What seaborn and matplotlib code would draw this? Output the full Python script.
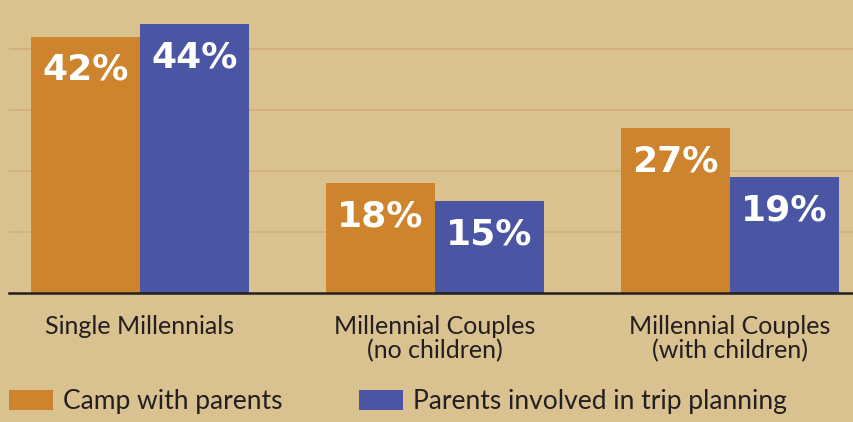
import matplotlib
matplotlib.use("Agg")
import matplotlib.pyplot as plt
import seaborn as sns
import pandas as pd

categories = ["Single Millennials", "Millennial Couples\n(no children)", "Millennial Couples\n(with children)"]
series_names = ["Camp with parents", "Parents involved in trip planning"]
camp_with_parents = [42, 18, 27]
parents_involved = [44, 15, 19]

BG = "#d9c290"
ORANGE = "#cd842c"
BLUE = "#4a55a3"
TEXT = "#231f20"
GRID = "#d4b07d"

sns.set_theme(style="white")
plt.rcParams["font.family"] = ["Lato", "DejaVu Sans"]

df = pd.DataFrame({
    "category": categories * 2,
    "series": [series_names[0]] * 3 + [series_names[1]] * 3,
    "value": camp_with_parents + parents_involved,
})

fig = plt.figure(figsize=(8.54, 4.22), dpi=100, facecolor=BG)
ax = fig.add_axes([9 / 854, 129 / 422, 845 / 854, 293 / 422])
ax.set_facecolor(BG)

sns.barplot(data=df, x="category", y="value", hue="series", order=categories,
            hue_order=series_names, palette=[ORANGE, BLUE], width=0.74,
            saturation=1, errorbar=None, ax=ax, zorder=3, linewidth=0)

ax.set_xlim(-0.444, 2.42)
ax.set_ylim(0, 48)
ax.set_yticks([10, 20, 30, 40])
ax.yaxis.grid(True, color=GRID, linewidth=1.4, zorder=0)
ax.set_axisbelow(True)
ax.tick_params(axis="y", left=False, labelleft=False)
ax.tick_params(axis="x", bottom=False, pad=10, labelsize=18, labelcolor=TEXT)
for t in ax.get_xticklabels():
    t.set_linespacing(1.05)
ax.set_xlabel("")
ax.set_ylabel("")
for s in ["top", "right", "left"]:
    ax.spines[s].set_visible(False)
ax.spines["bottom"].set_color(TEXT)
ax.spines["bottom"].set_linewidth(1.8)
ax.spines["bottom"].set_zorder(5)

for p in ax.patches:
    h = p.get_height()
    if h <= 0:
        continue
    ax.annotate(f"{h:.0f}%", (p.get_x() + p.get_width() / 2, h),
                xytext=(0, -24), textcoords="offset points",
                ha="center", va="center", color="white", fontsize=26,
                fontweight="bold", family=["DejaVu Sans"], zorder=6)

leg = ax.get_legend()
handles = leg.legend_handles
leg.remove()
fig.legend(handles, series_names, loc="center left", bbox_to_anchor=(9 / 854, 20 / 422),
           ncol=2, frameon=False, fontsize=19, labelcolor=TEXT,
           handlelength=1.67, handleheight=0.8, handletextpad=0.38,
           columnspacing=2.9, borderpad=0, borderaxespad=0)

fig.savefig("out.png", dpi=100, facecolor=BG)
